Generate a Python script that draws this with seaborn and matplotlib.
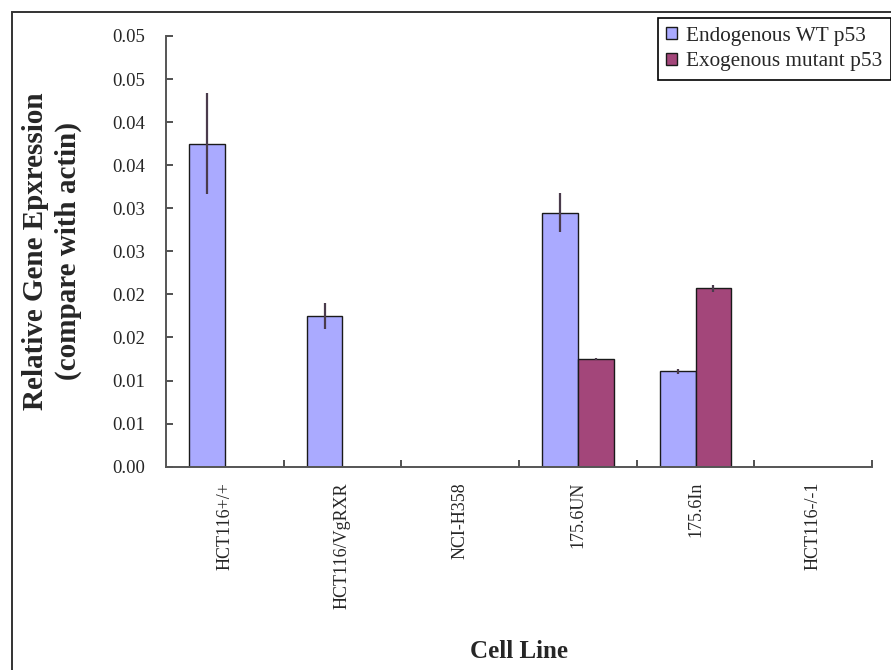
import matplotlib
matplotlib.use("Agg")
import matplotlib.pyplot as plt
import seaborn as sns
import pandas as pd
import numpy as np
from matplotlib.patches import Rectangle
from matplotlib.ticker import FixedLocator

# Relative p53 expression per cell line (normalised to actin)
cell_lines = ["HCT116+/+", "HCT116/VgRXR", "NCI-H358", "175.6UN", "175.6In", "HCT116-/-1"]
series_names = ["Endogenous WT p53", "Exogenous mutant p53"]
wt_values = [0.0375, 0.0175, 0.0, 0.0295, 0.0111, 0.0]
mutant_values = [0.0, 0.0, 0.0, 0.0125, 0.0207, 0.0]
wt_errors = [0.0059, 0.0015, 0.0, 0.0023, 0.0003, 0.0]
mutant_errors = [0.0, 0.0, 0.0, 0.0001, 0.0004, 0.0]
y_ticks = [0.000, 0.005, 0.010, 0.015, 0.020, 0.025, 0.030, 0.035, 0.040, 0.045, 0.050]
y_tick_labels = ["0.00", "0.01", "0.01", "0.02", "0.02", "0.03",
                 "0.03", "0.04", "0.04", "0.05", "0.05"]

sns.set_theme(style="white")
plt.rcParams["font.family"] = ["Liberation Serif", "DejaVu Serif"]

df = pd.DataFrame({
    "Cell Line": cell_lines * 2,
    "Series": [series_names[0]] * len(cell_lines) + [series_names[1]] * len(cell_lines),
    "Value": wt_values + mutant_values,
})
errors = [wt_errors, mutant_errors]

fig = plt.figure(figsize=(8.91, 6.70), dpi=100)
ax = fig.add_axes([166 / 891, 1 - 466.7 / 670, 706 / 891, 430.7 / 670])

sns.barplot(data=df, x="Cell Line", y="Value", hue="Series",
            order=cell_lines, hue_order=series_names,
            palette=["#AAAAFF", "#A3467A"], saturation=1,
            width=0.607, errorbar=None, edgecolor="#1a1a1a",
            linewidth=1.0, ax=ax)

# error bars centred on each drawn bar
for container, errs in zip(ax.containers, errors):
    for bar, err in zip(container, errs):
        if err <= 0:
            continue
        ax.errorbar(bar.get_x() + bar.get_width() / 2, bar.get_height(),
                    yerr=err, fmt="none", ecolor="#4a3b4c",
                    elinewidth=1.6, capsize=0, zorder=5)

ax.set_xlim(-0.5, len(cell_lines) - 0.5)
ax.set_ylim(0, 0.05)
ax.set_yticks(y_ticks)
ax.set_yticklabels(y_tick_labels, fontsize=13.5)
ax.tick_params(axis="y", direction="in", length=5, width=1.2,
               color="#333333", left=True, pad=15)

ax.set_xticks(range(len(cell_lines)))
ax.set_xticklabels(cell_lines, rotation=90, fontsize=13, va="top")
ax.tick_params(axis="x", which="major", length=0, pad=11)
ax.xaxis.set_minor_locator(FixedLocator(np.arange(0.5, len(cell_lines), 1.0)))
ax.tick_params(axis="x", which="minor", direction="in", length=5,
               width=1.2, color="#333333", bottom=True)

for side in ("top", "right"):
    ax.spines[side].set_visible(False)
for side in ("left", "bottom"):
    ax.spines[side].set_color("#555555")
    ax.spines[side].set_linewidth(1.4)

ax.set_ylabel("Relative Gene Epxression\n(compare with actin)",
              fontsize=21, fontweight="bold", linespacing=1.3)
ax.yaxis.set_label_coords((52 - 166) / 706, 0.5)
ax.yaxis.label.set_va("center")
ax.set_xlabel("Cell Line", fontsize=18, fontweight="bold")
ax.xaxis.set_label_coords(0.5, (466.7 - 651) / 430.7)
ax.xaxis.label.set_va("center")

leg = ax.legend(loc="upper left", bbox_to_anchor=(657.7 / 891, 1 - 18.3 / 670),
                bbox_transform=fig.transFigure, frameon=True, fancybox=False,
                edgecolor="black", framealpha=1, fontsize=15.3,
                handlelength=0.5, handleheight=0.5, handletextpad=0.45,
                borderpad=0.4, labelspacing=0.3, borderaxespad=0)
leg.get_frame().set_linewidth(1.2)
for h in leg.legend_handles:
    h.set_edgecolor("#1a1a1a")
    h.set_linewidth(1.0)

# chart-area border
fig.patches.append(Rectangle((12 / 891, -0.1), 1.2, 1.1 - 12 / 670,
                             transform=fig.transFigure, fill=False,
                             edgecolor="#333333", linewidth=1.4))

fig.savefig("out.png", dpi=100)
